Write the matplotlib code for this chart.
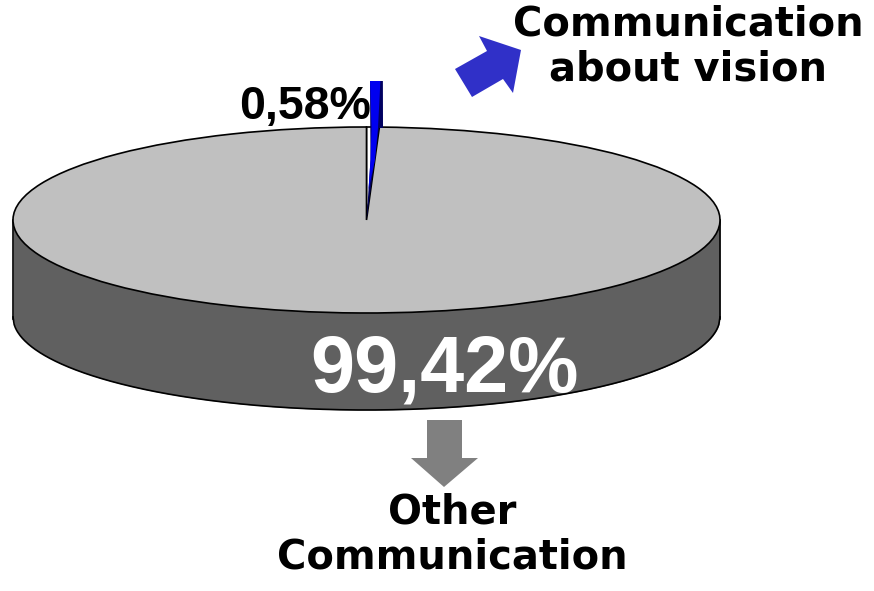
#Pie chart with a fake 3D look: share of communication about vision
import matplotlib
matplotlib.use("Agg")
import matplotlib.pyplot as plt
import numpy as np

#data
categories = ["Communication\nabout vision", "Other\nCommunication"]
shares = [0.58, 99.42]
share_labels = ["0,58%", "99,42%"]

W, H = 874, 591

#ellipse of the pie top and height of the wall, in pixels
cx, cy = 366.5, 220
rx, ry = 353.5, 93
depth = 97

fig = plt.figure(figsize=(W / 100, H / 100), dpi=100, facecolor="white")


def pixel_axes(z):
    a = fig.add_axes([0, 0, 1, 1], zorder=z)
    a.set_xlim(0, W)
    a.set_ylim(H, 0)
    a.axis("off")
    return a


#wall of the pie
back = pixel_axes(0)
xs = np.linspace(cx - rx, cx + rx, 600)
lower = cy + ry * np.sqrt(np.clip(1 - ((xs - cx) / rx) ** 2, 0, 1))
back.fill_between(xs, cy, lower + depth, color="#606060", lw=0)
back.plot(xs, lower + depth, color="black", lw=1.2)
back.plot([xs[0], xs[0]], [cy, cy + depth + 2], color="black", lw=1.2)
back.plot([xs[-1], xs[-1]], [cy, cy + depth + 2], color="black", lw=1.2)

#pie top, the small slice is pulled out so its place stays white
pie_ax = fig.add_axes([(cx - rx) / W, 1 - (cy + ry) / H, 2 * rx / W, 2 * ry / H], zorder=1)
pie_ax.pie(shares, colors=["white", "#c0c0c0"], startangle=90, counterclock=False,
           wedgeprops={"edgecolor": "black", "linewidth": 1.2})
pie_ax.set_aspect("auto")
pie_ax.set_xlim(-1, 1)
pie_ax.set_ylim(-1, 1)
for p in pie_ax.patches:
    p.set_clip_on(False)

front = pixel_axes(2)

#pulled out slice, width at the top comes from its share
top_w = 2 * np.pi * rx * shares[0] / sum(shares)
front.fill([370, 370 + top_w, 383, 379, 366.5, 370.5], [81, 81, 128, 128, 220, 160], color="#000060", lw=0)
front.fill([370, 370 + top_w - 2.5, 378, 375, 368.5, 370.5, 371.5],
           [81, 81, 128, 160, 190, 160, 128], color="#0000f0", lw=0)

#arrows
front.fill([455, 472, 503, 513, 521, 479, 487], [69, 97, 79, 93, 50, 36, 51], color="#3030c8", lw=0)
front.fill([427, 462, 462, 478, 444, 411, 427], [420, 420, 458, 458, 487, 458, 458], color="#808080", lw=0)

#labels
front.text(688, 47, categories[0], family="DejaVu Sans", weight="bold", fontsize=28.8,
           ha="center", va="center", linespacing=1.17, color="black")
front.text(452, 535, categories[1], family="DejaVu Sans", weight="bold", fontsize=28.8,
           ha="center", va="center", linespacing=1.17, color="black")
front.text(239, 119.5, share_labels[0], family="Liberation Sans", weight="bold", fontsize=33.5,
           ha="left", va="baseline", color="black")
front.text(310, 392, share_labels[1], family="Liberation Sans", weight="bold", fontsize=57,
           ha="left", va="baseline", color="white")

fig.savefig("out.png", dpi=100)
